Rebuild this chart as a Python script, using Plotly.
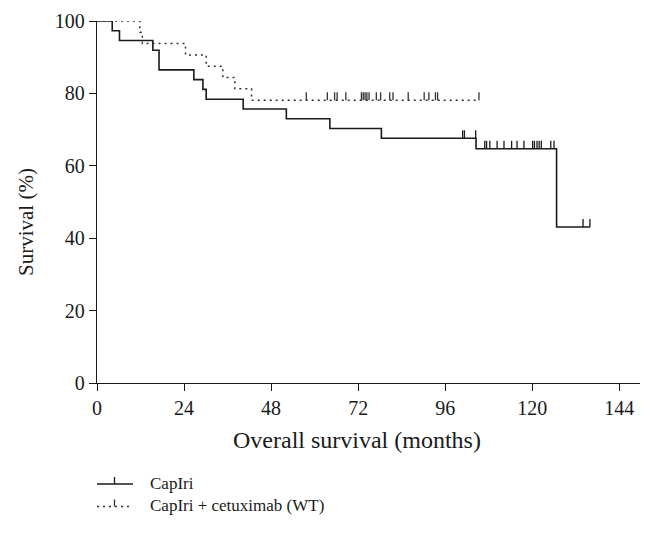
import plotly.graph_objects as go

# ---- data ----
capiri_times = [0, 4.2, 6.2, 15.4, 17.1, 26.7, 29.2, 30.1, 40.3, 52.2, 64.2, 78.4, 104.5, 126.7]
capiri_surv = [100, 97.3, 94.6, 91.9, 86.5, 83.8, 81.1, 78.4, 75.7, 73.0, 70.3, 67.6, 64.7, 43.1]
capiri_end = 135.9
capiri_censor = [100.8, 101.3, 104.4, 106.9, 107.4, 108.3, 110.3, 112.2, 114.3, 115.8, 117.7,
                 120.1, 120.6, 121.3, 121.9, 122.5, 125.1, 126.0, 134.0, 135.9]

cetux_times = [0, 11.8, 12.5, 24.4, 30.1, 34.7, 38.0, 42.6]
cetux_surv = [100, 96.9, 93.8, 90.6, 87.5, 84.4, 81.3, 78.1]
cetux_end = 105.3
cetux_censor = [57.7, 63.5, 65.5, 66.2, 68.6, 72.9, 73.4, 73.9, 74.4, 75.0, 77.0, 78.2,
                80.7, 81.6, 85.8, 90.2, 91.5, 93.3, 93.9, 105.3]

x_ticks = [0, 24, 48, 72, 96, 120, 144]
y_ticks = [0, 20, 40, 60, 80, 100]
series_names = ["CapIri", "CapIri + cetuximab (WT)"]
x_title = "Overall survival (months)"
y_title = "Survival (%)"

FONT = "Liberation Serif"
TICK_H = 2.2


def surv_at(times, surv, t):
    s = surv[0]
    for ti, si in zip(times, surv):
        if ti <= t:
            s = si
    return s


def censor_xy(times, surv, cens):
    xs, ys = [], []
    for c in cens:
        s = surv_at(times, surv, c)
        xs += [c, c, None]
        ys += [s, s + TICK_H, None]
    return xs, ys


fig = go.Figure()

styles = [dict(color="#1a1a1a", width=1.6, dash="solid"),
          dict(color="#333333", width=1.5, dash="2px,4px")]

for (times, surv, end, cens), name, st in zip(
        [(capiri_times, capiri_surv, capiri_end, capiri_censor),
         (cetux_times, cetux_surv, cetux_end, cetux_censor)],
        series_names, styles):
    fig.add_trace(go.Scatter(x=times + [end], y=surv + [surv[-1]], mode="lines",
                             line=dict(shape="hv", **st), name=name,
                             showlegend=False, cliponaxis=False, hoverinfo="skip"))
    cx, cy = censor_xy(times, surv, cens)
    fig.add_trace(go.Scatter(x=cx, y=cy, mode="lines",
                             line=dict(color=st["color"], width=1.3),
                             showlegend=False, cliponaxis=False, hoverinfo="skip"))

# layout constants in page pixels (page has an 8px body margin)
OFF = 8
FIG_W, FIG_H = 652 - 2 * OFF, 537 - 2 * OFF
L, R, T, B = 97, 640, 21, 383          # plot box in page pixels
W, H = R - L, B - T


def px(xp):
    return (xp - L) / W


def py(yp):
    return (B - yp) / H


shapes = []
annotations = []
for i, (name, st) in enumerate(zip(series_names, styles)):
    yrow = 484 + i * 22.5
    shapes.append(dict(type="line", xref="paper", yref="paper",
                       x0=px(97), x1=px(133), y0=py(yrow), y1=py(yrow),
                       line=dict(color=st["color"], width=st["width"], dash=st["dash"])))
    shapes.append(dict(type="line", xref="paper", yref="paper",
                       x0=px(114.5), x1=px(114.5), y0=py(yrow), y1=py(yrow - 7),
                       line=dict(color=st["color"], width=1.3)))
    annotations.append(dict(text=name, xref="paper", yref="paper", x=px(148), y=py(yrow - 1),
                             xanchor="left", yanchor="middle", showarrow=False,
                             font=dict(family=FONT, size=17, color="#1a1a1a")))

annotations.append(dict(text=x_title, xref="paper", yref="paper", x=px(357), y=py(440),
                        xanchor="center", yanchor="middle", showarrow=False,
                        font=dict(family=FONT, size=24, color="#1a1a1a")))
annotations.append(dict(text=y_title, xref="paper", yref="paper", x=px(26), y=py(222),
                        xanchor="center", yanchor="middle", showarrow=False, textangle=-90,
                        font=dict(family=FONT, size=21, color="#1a1a1a")))

fig.update_layout(
    width=FIG_W, height=FIG_H,
    margin=dict(l=L - OFF, r=FIG_W - (R - OFF), t=T - OFF, b=FIG_H - (B - OFF), autoexpand=False),
    paper_bgcolor="white", plot_bgcolor="white",
    showlegend=False,
    shapes=shapes, annotations=annotations,
    font=dict(family=FONT, color="#1a1a1a"),
)
fig.update_xaxes(range=[0, 149.7], tickvals=x_ticks, ticktext=[str(v) for v in x_ticks],
                 showline=True, linecolor="#1a1a1a", linewidth=1.3, automargin=False,
                 ticks="outside", ticklen=7, tickwidth=1.3, tickcolor="#1a1a1a",
                 showgrid=False, zeroline=False, tickfont=dict(size=20))
fig.update_yaxes(range=[0, 100], tickvals=y_ticks, ticktext=[str(v) for v in y_ticks],
                 showline=True, linecolor="#1a1a1a", linewidth=1.3, automargin=False,
                 ticks="outside", ticklen=7, tickwidth=1.3, tickcolor="#1a1a1a",
                 showgrid=False, zeroline=False, tickfont=dict(size=20))

fig.write_html("out.html")
